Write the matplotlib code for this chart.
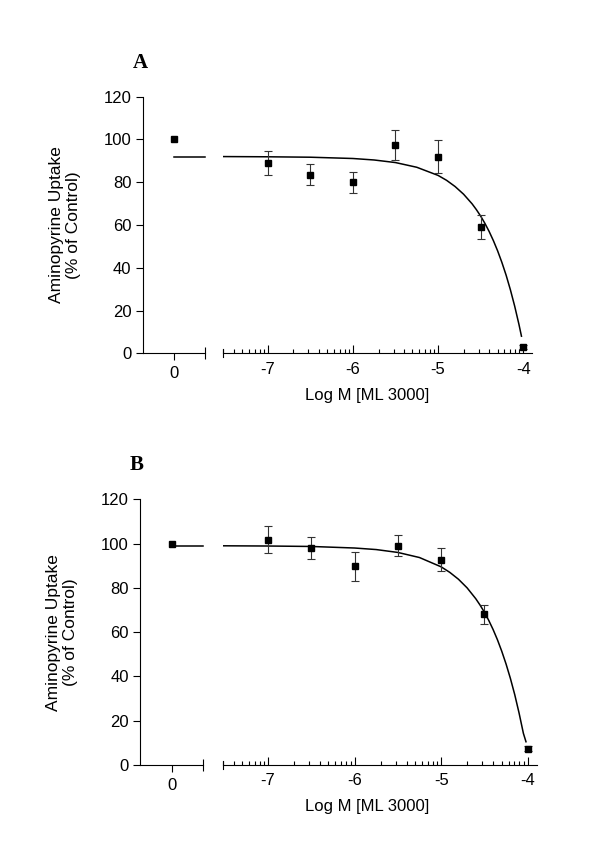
import numpy as np
import matplotlib.pyplot as plt
from matplotlib.ticker import FixedLocator, NullFormatter

plt.rcParams['font.family'] = ['Liberation Sans', 'DejaVu Sans']

# Concentrations (log M) of ML 3000
log_conc = [-7, -6.5, -6, -5.5, -5, -4.5, -4]
tick_labels = ['-7', '-6', '-5', '-4']

# Panel A
a_control = 100
a_mean = [89, 83.5, 80, 97.5, 92, 59, 3]
a_err = [5.7, 5, 5, 7, 7.7, 5.7, 1]

# Panel B
b_control = 100
b_mean = [101.8, 98, 89.7, 99, 92.8, 68, 7.4]
b_err = [6.2, 5.1, 6.5, 4.7, 5, 4.3, 1.3]

# Fitted curves
fit_logx = [-7.52, -7, -6.5, -6, -5.75, -5.5, -5.25, -5, -4.9, -4.8, -4.7, -4.6,
            -4.55, -4.5, -4.45, -4.4, -4.35, -4.3, -4.25, -4.2, -4.15, -4.1, -4.05, -4.02]
a_fit = [92, 91.9, 91.7, 91.1, 90.4, 89.2, 87, 83.2, 80.9, 78, 74.4, 69.9,
         67.2, 64.2, 60.8, 57, 52.7, 47.9, 42.5, 36.5, 29.7, 22.1, 13.6, 8]
b_fit = [99, 98.9, 98.7, 98, 97.3, 96, 93.7, 89.5, 87, 83.9, 80, 75.1,
         72.2, 69, 65.3, 61.2, 56.6, 51.4, 45.6, 39.1, 31.8, 23.5, 14.3, 10.5]

W, H = 600, 858


def caja(x0, x1, y_top, y_bot):
    return [x0 / W, 1 - y_bot / H, (x1 - x0) / W, (y_bot - y_top) / H]


# Draw one panel: a short "control" axis and a broken log axis
def dibujar_panel(fig, letra, geo, control, mean, err, fit_y):
    yax, seg_end, seg2_start, seg2_end, y_top, y_bot = geo
    ax0 = fig.add_axes(caja(yax, seg_end, y_top, y_bot))
    ax1 = fig.add_axes(caja(seg2_start, seg2_end, y_top, y_bot))
    for ax in (ax0, ax1):
        ax.set_ylim(0, 120)
        ax.spines['top'].set_visible(False)
        ax.spines['right'].set_visible(False)
        ax.patch.set_visible(False)
        for s in ax.spines.values():
            s.set_linewidth(0.8)

    # control segment
    ax0.set_xlim(-1, 1)
    ax0.set_xticks([0])
    ax0.set_xticklabels(['0'])
    ax0.set_xticks([1], minor=True)
    ax0.tick_params(axis='x', which='major', direction='out', length=5, width=0.8, pad=4, labelsize=12)
    ax0.tick_params(axis='x', which='minor', direction='inout', length=8, width=0.8)
    ax0.set_yticks(range(0, 121, 20))
    ax0.tick_params(axis='y', direction='out', length=5, width=0.8, pad=3, labelsize=12)
    ax0.plot([0, ax0.get_xlim()[1]], [fit_y[0], fit_y[0]], color='black', lw=1.1, clip_on=False)
    ax0.plot([0], [control], 's', color='black', ms=5, clip_on=False)

    # concentration segment
    ax1.set_xscale('log')
    ax1.set_xlim(3e-8, 1.27e-4)
    ax1.spines['left'].set_visible(False)
    ax1.set_yticks([])
    ax1.xaxis.set_major_locator(FixedLocator([1e-7, 1e-6, 1e-5, 1e-4]))
    ax1.set_xticklabels(tick_labels)
    menores = [m * 10.0 ** e for e in range(-8, -4) for m in range(2, 10)]
    ax1.xaxis.set_minor_locator(FixedLocator(menores))
    ax1.xaxis.set_minor_formatter(NullFormatter())
    ax1.tick_params(axis='x', which='major', direction='in', length=5.5, width=0.8, pad=6, labelsize=12)
    ax1.tick_params(axis='x', which='minor', direction='in', length=3, width=0.8)
    ax1.axvline(ax1.get_xlim()[0], ymin=-0.015, ymax=0.015, color='black', lw=0.8, clip_on=False)

    x = 10.0 ** np.array(log_conc)
    ax1.plot(10.0 ** np.array(fit_logx), fit_y, color='black', lw=1.1)
    ax1.errorbar(x, mean, yerr=err, fmt='s', color='black', ms=5, ecolor='#333333',
                 elinewidth=0.8, capsize=3, capthick=0.8, clip_on=False)

    fig.text((yax - 78) / W, 1 - (y_top + y_bot) / 2 / H, 'Aminopyrine Uptake\n(% of Control)',
             rotation=90, ha='center', va='center', fontsize=12.5, linespacing=1.15, multialignment='center')
    fig.text(367 / W, 1 - (y_bot + 42) / H, 'Log M [ML 3000]', ha='center', va='center', fontsize=12)
    fig.text((yax - 10) / W, 1 - (y_top - 29) / H, letra, ha='left', va='baseline',
             fontsize=15, fontweight='bold', family=['Liberation Serif', 'DejaVu Serif'])


fig = plt.figure(figsize=(6, 8.58), dpi=100)
dibujar_panel(fig, 'A', (142.7, 205, 223.3, 532, 96.7, 353.3), a_control, a_mean, a_err, a_fit)
dibujar_panel(fig, 'B', (140, 203.3, 222.7, 536.7, 499.3, 765), b_control, b_mean, b_err, b_fit)
fig.savefig('out.png', dpi=100)
